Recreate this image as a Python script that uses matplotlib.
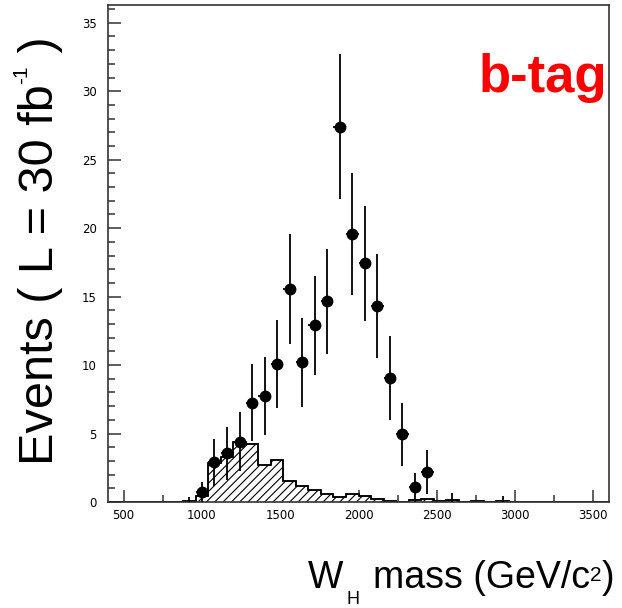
import numpy as np
import matplotlib
matplotlib.use("Agg")
import matplotlib.pyplot as plt
from matplotlib.ticker import MultipleLocator

# ---------- data ----------
# background histogram: 40 bins of 80 GeV from 400 to 3600
bin_edges = np.arange(400, 3601, 80)
bkg_counts = [0, 0, 0, 0, 0, 0, 0.1, 0.45, 2.87, 3.3,
              4.4, 4.25, 2.7, 3.07, 1.55, 1.2, 0.9, 0.62, 0.4, 0.55,
              0.42, 0.22, 0.05, 0, 0.15, 0.24, 0.05, 0.17, 0, 0.05,
              0, 0.05, 0, 0, 0, 0, 0, 0, 0, 0]

# signal + background points
mass = [1000, 1080, 1160, 1240, 1320, 1400, 1480, 1560, 1640, 1720,
        1800, 1880, 1960, 2040, 2120, 2200, 2280, 2360, 2440]
events = [0.7, 2.9, 3.55, 4.4, 7.25, 7.75, 10.1, 15.55, 10.2, 12.9,
          14.65, 27.4, 19.55, 17.45, 14.3, 9.05, 4.95, 1.07, 2.2]
errors = [0.78, 1.7, 1.95, 2.15, 2.8, 2.85, 3.2, 4.0, 3.25, 3.6,
          3.85, 5.3, 4.45, 4.2, 3.8, 3.05, 2.3, 1.07, 1.6]

# near-empty bins, only the error bar is visible
mass_low = [920, 2600, 2920]
events_low = [0.0, 0.0, 0.0]
errors_low = [0.35, 0.65, 0.45]

# ---------- figure ----------
plt.rcParams["font.family"] = ["Liberation Sans", "DejaVu Sans"]
plt.rcParams["hatch.linewidth"] = 0.8

W, H = 622, 608
fig = plt.figure(figsize=(W / 100, H / 100), dpi=100)
ax = fig.add_axes([108 / W, 1 - 502 / H, (609 - 108) / W, (502 - 5) / H])
renderer = fig.canvas.get_renderer()


def px(x, y):
    # image pixel (from top-left) -> figure fraction
    return x / W, 1 - y / H


ax.stairs(bkg_counts, bin_edges, fill=True, facecolor="white",
          edgecolor="black", hatch="////", linewidth=1.1, zorder=2)
ax.stairs(bkg_counts, bin_edges, color="black", linewidth=1.1, zorder=2)

ax.errorbar(mass, events, yerr=errors, xerr=40, fmt="o", color="black",
            ms=7.5, elinewidth=1.3, capsize=0, zorder=3)
ax.errorbar(mass_low, events_low, yerr=errors_low, fmt="none", ecolor="black",
            elinewidth=1.3, capsize=0, zorder=3)

ax.set_xlim(400, 3600)
ax.set_ylim(0, 36.3)
ax.xaxis.set_major_locator(MultipleLocator(500))
ax.xaxis.set_minor_locator(MultipleLocator(250))
ax.yaxis.set_major_locator(MultipleLocator(5))
ax.yaxis.set_minor_locator(MultipleLocator(1))
ax.tick_params(which="both", direction="in", top=False, right=False,
               color="#333333", width=1.1)
ax.tick_params(which="major", length=9)
ax.tick_params(which="minor", length=5)
ax.tick_params(axis="x", pad=5)
ax.tick_params(axis="y", pad=8)
for lab in ax.get_xticklabels() + ax.get_yticklabels():
    lab.set_fontfamily("DejaVu Sans")
    lab.set_fontsize(8.5)
for sp in ax.spines.values():
    sp.set_linewidth(1.2)
    sp.set_color("#333333")

ax.text(0.996, 1 - (92 - 5) / (502 - 5), "b-tag", transform=ax.transAxes,
        ha="right", va="baseline", color="red", fontsize=38, fontweight="bold")

# y title, built in pieces: rotated, baseline on the right, reading upward
ykw = dict(rotation=90, rotation_mode="anchor", ha="left", va="baseline")
y_cur = 465
for s, size, base_x in [("Events ( L = 30 fb", 35, 53), ("-1", 15, 27), (" )", 35, 53)]:
    t = fig.text(*px(base_x, y_cur), s, fontsize=size, **ykw)
    y_cur -= t.get_window_extent(renderer).height

# x title
xkw = dict(ha="left", va="baseline")
fig.text(*px(308, 588), "W", fontsize=27, **xkw)
fig.text(*px(347, 604), "H", fontsize=13, **xkw)
x_cur = 373
for s, size, base_y in [("mass (GeV/c", 27, 588), ("2", 15, 581), (")", 27, 588)]:
    t = fig.text(*px(x_cur, base_y), s, fontsize=size, **xkw)
    x_cur += t.get_window_extent(renderer).width

fig.savefig("out.png", dpi=100)
